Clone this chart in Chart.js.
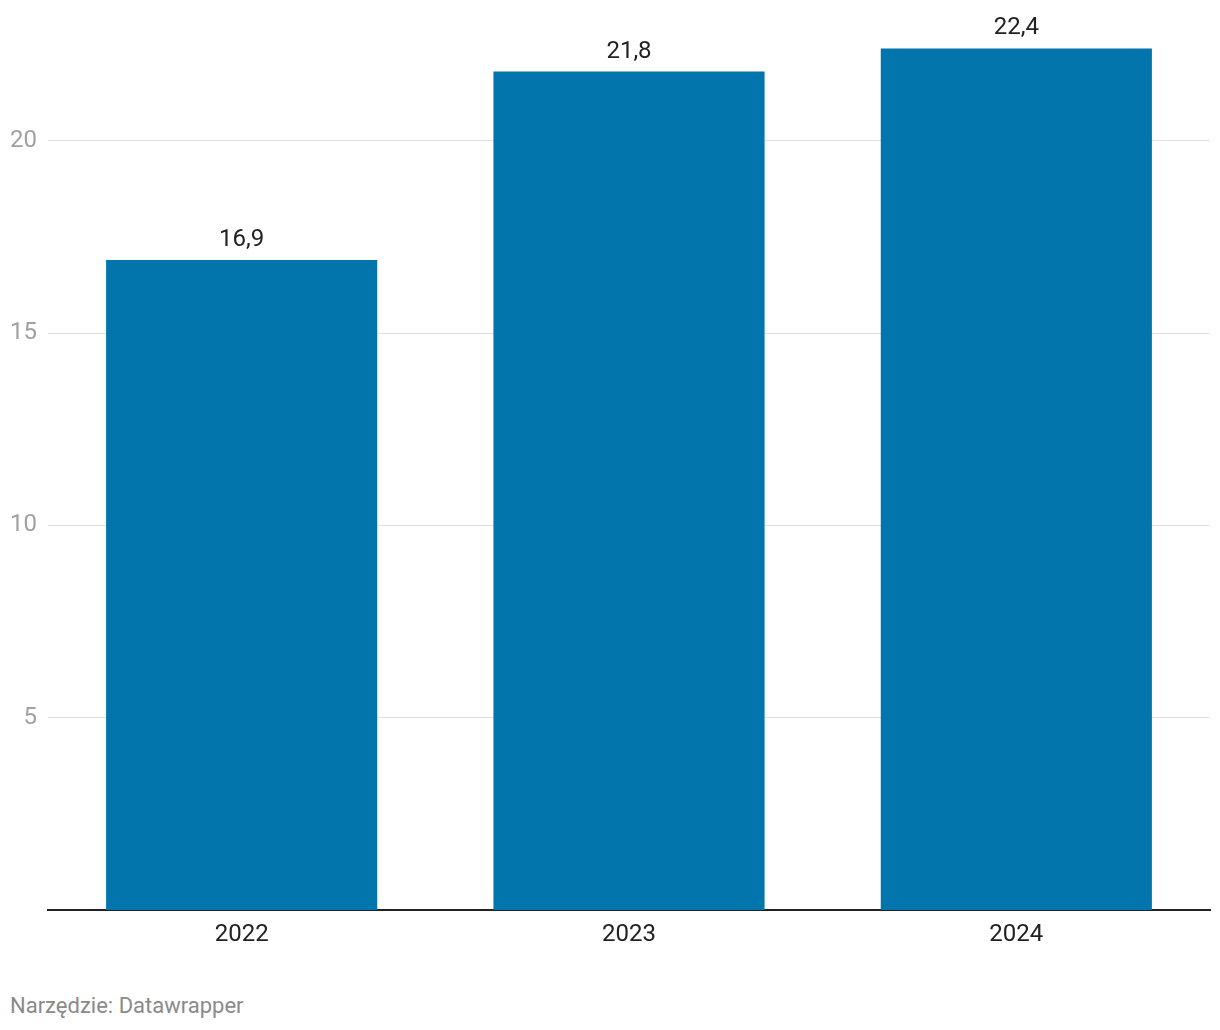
<!DOCTYPE html>
<html>
<head>
<meta charset="utf-8">
<script src="https://cdn.jsdelivr.net/npm/chart.js@4"></script>
<style>
  html, body { margin: 0; padding: 0; background: #fff; }
  #wrap { position: relative; width: 1220px; height: 1030px; }
  #c { position: absolute; left: 0; top: 0; }
  #footer { position: absolute; left: 10px; top: 993px; font-family: Roboto, sans-serif; font-size: 22px; color: #8a8a8a; }
</style>
</head>
<body>
<div id="wrap">
  <canvas id="c" width="1220" height="980"></canvas>
  <div id="footer">Narzędzie: Datawrapper</div>
</div>
<script>
const categories = ["2022", "2023", "2024"];
const values = [16.9, 21.8, 22.4];
const yTicks = [5, 10, 15, 20];

const valueLabels = {
  id: 'valueLabels',
  afterDatasetsDraw(chart) {
    const ctx = chart.ctx;
    const meta = chart.getDatasetMeta(0);
    ctx.save();
    ctx.font = '24px Roboto, sans-serif';
    ctx.fillStyle = '#222';
    ctx.textAlign = 'center';
    ctx.textBaseline = 'alphabetic';
    meta.data.forEach((bar, i) => {
      const txt = values[i].toLocaleString('pl-PL', {minimumFractionDigits: 1, maximumFractionDigits: 1});
      ctx.fillText(txt, bar.x, bar.y - 14);
    });
    ctx.restore();
  }
};

new Chart(document.getElementById('c'), {
  type: 'bar',
  data: {
    labels: categories,
    datasets: [{
      data: values,
      backgroundColor: '#0175ac',
      barPercentage: 0.7,
      categoryPercentage: 1.0
    }]
  },
  options: {
    responsive: false,
    animation: false,
    layout: { padding: { left: 10, right: 10, top: 24.5, bottom: 20 } },
    plugins: { legend: { display: false }, tooltip: { enabled: false } },
    scales: {
      x: {
        grid: { display: false, drawTicks: false },
        border: { display: true, color: '#222', width: 2 },
        ticks: { color: '#222', font: { family: 'Roboto', size: 24 }, padding: 11 },
        afterFit(scale) { scale.height = 50; }
      },
      y: {
        min: 0,
        max: 23,
        afterBuildTicks(scale) { scale.ticks = yTicks.map(v => ({ value: v })); },
        grid: { color: '#e0e0e0', lineWidth: 1, drawTicks: false },
        border: { display: false },
        ticks: { color: '#a0a0a0', font: { family: 'Roboto', size: 24 }, padding: 11 },
        afterFit(scale) { scale.width = 38; }
      }
    }
  },
  plugins: [valueLabels]
});
</script>
</body>
</html>
